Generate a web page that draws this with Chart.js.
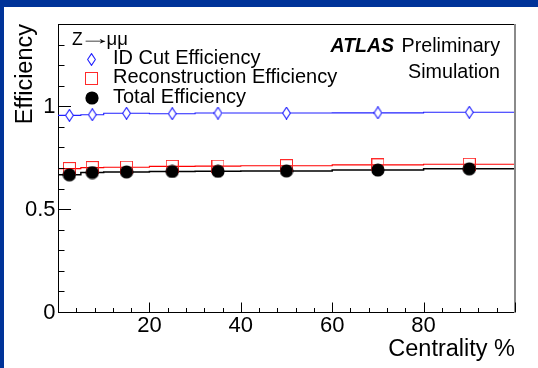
<!DOCTYPE html>
<html>
<head>
<meta charset="utf-8">
<script src="https://cdn.jsdelivr.net/npm/chart.js@4.4.1/dist/chart.umd.min.js"></script>
<style>
  html, body { margin: 0; padding: 0; background: #fff; overflow: hidden; }
  canvas { display: block; }
</style>
</head>
<body>
<canvas id="c" width="538" height="368"></canvas>
<script>
// Centrality bins (%) and per-bin efficiencies, Z -> mu mu simulation
const binEdges = [0, 5, 10, 20, 30, 40, 60, 80, 100];
const idCutEff = [0.956, 0.959, 0.966, 0.964, 0.967, 0.967, 0.968, 0.971];
const recoEff  = [0.697, 0.702, 0.704, 0.708, 0.709, 0.711, 0.715, 0.718];
const totalEff = [0.667, 0.678, 0.681, 0.683, 0.684, 0.686, 0.690, 0.696];
const seriesNames = ['ID Cut Efficiency', 'Reconstruction Efficiency', 'Total Efficiency'];
const xTickLabels = [20, 40, 60, 80];
const yTickLabels = [0, 0.5, 1];

const FONT = '"Liberation Sans", Arial, Helvetica, sans-serif';
Chart.defaults.font.family = FONT;
Chart.defaults.color = '#000';

// Small canvases used as point styles (plot and legend share them)
function markerCanvas(w, h, paint) {
  const c = document.createElement('canvas');
  c.width = w; c.height = h;
  paint(c.getContext('2d'));
  return c;
}
const diamondMarker = markerCanvas(9, 13, g => {
  g.beginPath();
  g.moveTo(4.5, 0.6); g.lineTo(8.4, 6.5); g.lineTo(4.5, 12.4); g.lineTo(0.6, 6.5);
  g.closePath();
  g.fillStyle = '#fff'; g.fill();
  g.strokeStyle = '#2020ff'; g.lineWidth = 1.1; g.stroke();
});
const squareMarker = markerCanvas(13, 13, g => {
  g.strokeStyle = '#ff2a2a'; g.lineWidth = 1; g.strokeRect(0.5, 0.5, 12, 12);
});
const dotMarker = markerCanvas(14, 14, g => {
  g.fillStyle = '#000'; g.beginPath(); g.arc(7, 7, 6.6, 0, Math.PI * 2); g.fill();
});

// Histogram outline: value held across each bin, closed at the last edge
function stepPoints(vals) {
  const pts = vals.map((v, i) => ({ x: binEdges[i], y: v }));
  pts.push({ x: binEdges[binEdges.length - 1], y: vals[vals.length - 1] });
  return pts;
}
// Markers at bin centres
function centrePoints(vals) {
  return vals.map((v, i) => ({ x: (binEdges[i] + binEdges[i + 1]) / 2, y: v }));
}

const series = [
  { name: seriesNames[0], values: idCutEff, color: '#2020ff', width: 1.1, marker: diamondMarker },
  { name: seriesNames[1], values: recoEff,  color: '#ff0000', width: 1.1, marker: squareMarker },
  { name: seriesNames[2], values: totalEff, color: '#000000', width: 1.5, marker: dotMarker }
];

const histSets = series.map((s, k) => ({
  label: s.name + ' hist',
  data: stepPoints(s.values),
  showLine: true,
  stepped: true,
  borderColor: s.color,
  borderWidth: s.width,
  pointRadius: 0,
  fill: false,
  order: 5 - k
}));
const markerSets = series.map((s, k) => ({
  label: s.name,
  data: centrePoints(s.values),
  showLine: false,
  pointStyle: s.marker,
  pointRadius: 6,
  pointHoverRadius: 6,
  order: 2 - k,
  legendEntry: true
}));

const near = (a, b) => Math.abs(a - b) < 1e-6;

// Background band, frame, inward ticks, legend and labels
const decorations = {
  id: 'decorations',
  beforeDraw(chart) {
    const ctx = chart.ctx;
    ctx.save();
    ctx.fillStyle = '#003399';
    ctx.fillRect(0, 0, chart.width, chart.height);
    ctx.fillStyle = '#fff';
    ctx.fillRect(4, 7, chart.width - 4, chart.height - 7);
    ctx.restore();
  },
  afterDraw(chart) {
    const ctx = chart.ctx;
    const a = chart.chartArea;
    const xs = chart.scales.x, ys = chart.scales.y;
    ctx.save();
    // frame: top black, right grey
    ctx.strokeStyle = '#000';
    ctx.lineWidth = 1;
    ctx.beginPath();
    ctx.moveTo(a.left, Math.round(a.top) + 0.5);
    ctx.lineTo(a.right, Math.round(a.top) + 0.5);
    ctx.stroke();
    ctx.strokeStyle = '#8a8a8a';
    ctx.lineWidth = 2;
    ctx.beginPath();
    ctx.moveTo(a.right, a.top);
    ctx.lineTo(a.right, a.bottom + 1);
    ctx.stroke();

    // inward tick marks
    ctx.strokeStyle = '#000';
    ctx.lineWidth = 1;
    ctx.beginPath();
    ys.ticks.forEach(t => {
      const py = Math.round(ys.getPixelForValue(t.value)) + 0.5;
      const major = near(t.value * 2, Math.round(t.value * 2));
      const len = major ? 13 : 6.5;
      ctx.moveTo(a.left, py);
      ctx.lineTo(a.left + len, py);
    });
    xs.ticks.forEach(t => {
      const px = Math.round(xs.getPixelForValue(t.value)) + 0.5;
      const major = t.value % 20 === 0;
      const len = major ? 9.5 : 4;
      ctx.moveTo(px, a.bottom);
      ctx.lineTo(px, a.bottom - len);
    });
    ctx.stroke();

    // legend header: Z -> mu mu, the arrow stretched to a long thin shape
    ctx.fillStyle = '#000';
    ctx.textBaseline = 'alphabetic';
    ctx.textAlign = 'left';
    ctx.font = '17.5px ' + FONT;
    ctx.fillText('Z', 72, 44.5);
    ctx.font = '18px ' + FONT;
    const am = ctx.measureText('\u2192');
    const inkL = am.actualBoundingBoxLeft || 0;
    const inkW = (am.actualBoundingBoxRight + inkL) || am.width;
    const sx = 22 / inkW;
    ctx.save();
    ctx.translate(84 + inkL * sx, 44);
    ctx.scale(sx, 1);
    ctx.fillText('\u2192', 0, 0);
    ctx.restore();
    ctx.font = '18.5px ' + FONT;
    ctx.fillText('\u03bc\u03bc', 106.5, 44.5);

    // legend entries
    ctx.font = '20px ' + FONT;
    let base = 63.6;
    chart.data.datasets.filter(d => d.legendEntry).forEach(d => {
      const img = d.pointStyle;
      ctx.drawImage(img, Math.round(91.5 - img.width / 2), Math.round(base - 4.5 - img.height / 2));
      ctx.fillText(d.label, 113, base);
      base += 19.6;
    });

    // ATLAS label
    ctx.textAlign = 'right';
    ctx.font = '19.7px ' + FONT;
    ctx.fillText('Preliminary', 500, 51.7);
    const wPre = ctx.measureText('Preliminary').width;
    ctx.font = 'italic bold 19.5px ' + FONT;
    ctx.fillText('ATLAS', 500 - wPre - 7.5, 51.7);
    ctx.font = '19.7px ' + FONT;
    ctx.fillText('Simulation', 500, 78.3);
    ctx.restore();
  }
};

new Chart(document.getElementById('c'), {
  type: 'scatter',
  data: { datasets: [...histSets, ...markerSets] },
  options: {
    responsive: false,
    animation: false,
    devicePixelRatio: 1,
    layout: { padding: { top: 24, right: 23, left: 0, bottom: 0 } },
    plugins: { legend: { display: false }, tooltip: { enabled: false } },
    scales: {
      x: {
        type: 'linear',
        min: 0, max: 100,
        grid: { display: false, drawTicks: false },
        border: { display: true, color: '#000', width: 1 },
        ticks: {
          stepSize: 4,
          autoSkip: false,
          maxRotation: 0, minRotation: 0,
          padding: 1,
          color: '#000',
          font: { size: 22 },
          callback: v => xTickLabels.includes(v) ? String(v) : ''
        },
        title: {
          display: true, text: 'Centrality %', align: 'end', color: '#000',
          font: { size: 23.5 }, padding: { top: 0, bottom: 4 }
        },
        afterFit: s => { s.height = 56; }
      },
      y: {
        type: 'linear',
        min: 0, max: 1.4,
        grid: { display: false, drawTicks: false },
        border: { display: true, color: '#000', width: 1 },
        ticks: {
          stepSize: 0.1,
          autoSkip: false,
          padding: 2.5,
          labelOffset: 1,
          color: '#000',
          font: { size: 22 },
          callback: v => {
            const hit = yTickLabels.find(l => near(l, v));
            return hit === undefined ? '' : String(hit);
          }
        },
        title: {
          display: true, text: 'Efficiency', align: 'end', color: '#000',
          font: { size: 23.5 }, padding: { top: 11, bottom: 0 }
        },
        afterFit: s => { s.width = 58; }
      }
    }
  },
  plugins: [decorations]
});
</script>
</body>
</html>
